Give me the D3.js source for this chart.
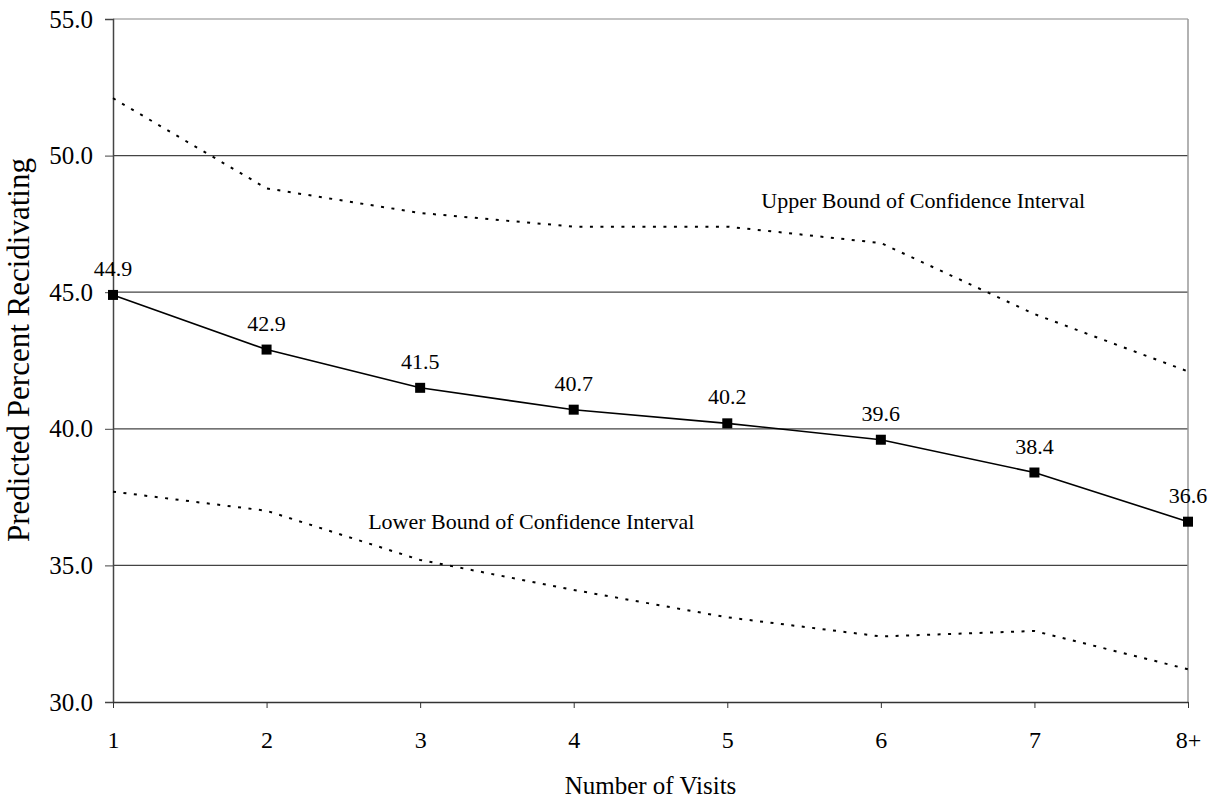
<!DOCTYPE html>
<html>
<head>
<meta charset="utf-8">
<script src="https://cdn.jsdelivr.net/npm/d3@7/dist/d3.min.js"></script>
<style>
  body { margin: 0; background: #fff; }
  svg text { font-family: "Liberation Serif", "DejaVu Serif", serif; fill: #000; }
</style>
</head>
<body>
<div id="chart"></div>
<script>
// data
const visits = ['1', '2', '3', '4', '5', '6', '7', '8+'];
const predicted = [44.9, 42.9, 41.5, 40.7, 40.2, 39.6, 38.4, 36.6];
const upperBound = [52.1, 48.8, 47.9, 47.4, 47.4, 46.8, 44.2, 42.1];
const lowerBound = [37.7, 37.0, 35.2, 34.1, 33.1, 32.4, 32.6, 31.2];
const yTicks = [30, 35, 40, 45, 50, 55];

const width = 1219, height = 800;
const margin = {top: 19, right: 31, bottom: 98, left: 113};

const svg = d3.select('#chart').append('svg')
  .attr('width', width)
  .attr('height', height);

const innerW = width - margin.left - margin.right;
const innerH = height - margin.top - margin.bottom;

const x = d3.scalePoint().domain(visits).range([0, innerW]);
const y = d3.scaleLinear().domain([30, 55]).range([innerH, 0]);

const g = svg.append('g')
  .attr('transform', 'translate(' + margin.left + ',' + margin.top + ')');

// gridlines
g.append('g')
  .selectAll('line')
  .data(yTicks.filter(d => d > 30))
  .enter().append('line')
    .attr('x1', 0).attr('x2', innerW)
    .attr('y1', d => y(d)).attr('y2', d => y(d))
    .attr('stroke', d => d === 55 ? '#888' : '#444')
    .attr('stroke-width', 1.2);

// right border
g.append('line')
  .attr('x1', innerW).attr('x2', innerW)
  .attr('y1', 0).attr('y2', innerH)
  .attr('stroke', '#999').attr('stroke-width', 1.5);

// y axis
const yAxis = g.append('g')
  .call(d3.axisLeft(y).tickValues(yTicks).tickFormat(d3.format('.1f')).tickSize(8).tickPadding(12));
yAxis.select('.domain').attr('stroke', '#444').attr('stroke-width', 1.5);
yAxis.selectAll('.tick line').attr('stroke', '#444');
yAxis.selectAll('text').style('font-size', '25px').style('font-family', '"Liberation Serif", serif');

// x axis
const xAxis = g.append('g')
  .attr('transform', 'translate(0,' + innerH + ')')
  .call(d3.axisBottom(x).tickSize(6).tickSizeOuter(0).tickPadding(23));
xAxis.select('.domain').attr('stroke', '#333').attr('stroke-width', 1.5);
xAxis.selectAll('.tick line').attr('stroke', '#333');
xAxis.selectAll('text').style('font-size', '24px').style('font-family', '"Liberation Serif", serif');

// confidence bounds
const line = d3.line()
  .x((d, i) => x(visits[i]))
  .y(d => y(d));

[upperBound, lowerBound].forEach(series => {
  g.append('path')
    .datum(series)
    .attr('fill', 'none')
    .attr('stroke', '#000')
    .attr('stroke-width', 2)
    .attr('stroke-dasharray', '3,7.5')
    .attr('d', line);
});

// predicted line
g.append('path')
  .datum(predicted)
  .attr('fill', 'none')
  .attr('stroke', '#000')
  .attr('stroke-width', 1.6)
  .attr('d', line);

g.selectAll('.marker')
  .data(predicted)
  .enter().append('rect')
    .attr('class', 'marker')
    .attr('x', (d, i) => x(visits[i]) - 5)
    .attr('y', d => y(d) - 5)
    .attr('width', 10)
    .attr('height', 10)
    .attr('fill', '#000');

g.selectAll('.val')
  .data(predicted)
  .enter().append('text')
    .attr('class', 'val')
    .attr('x', (d, i) => x(visits[i]))
    .attr('y', d => y(d) - 19)
    .attr('text-anchor', 'middle')
    .style('font-size', '22px')
    .text(d => d.toFixed(1));

// series annotations
g.append('text')
  .attr('x', x('5') + 34)
  .attr('y', y(48.1))
  .style('font-size', '22px')
  .text('Upper Bound of Confidence Interval');

g.append('text')
  .attr('x', x('3') - 52)
  .attr('y', y(36.35))
  .style('font-size', '22px')
  .text('Lower Bound of Confidence Interval');

// axis titles
svg.append('text')
  .attr('x', margin.left + innerW / 2)
  .attr('y', 794)
  .attr('text-anchor', 'middle')
  .style('font-size', '25px')
  .text('Number of Visits');

svg.append('text')
  .attr('transform', 'translate(29,350) rotate(-90)')
  .attr('text-anchor', 'middle')
  .style('font-size', '31px')
  .text('Predicted Percent Recidivating');
</script>
</body>
</html>
